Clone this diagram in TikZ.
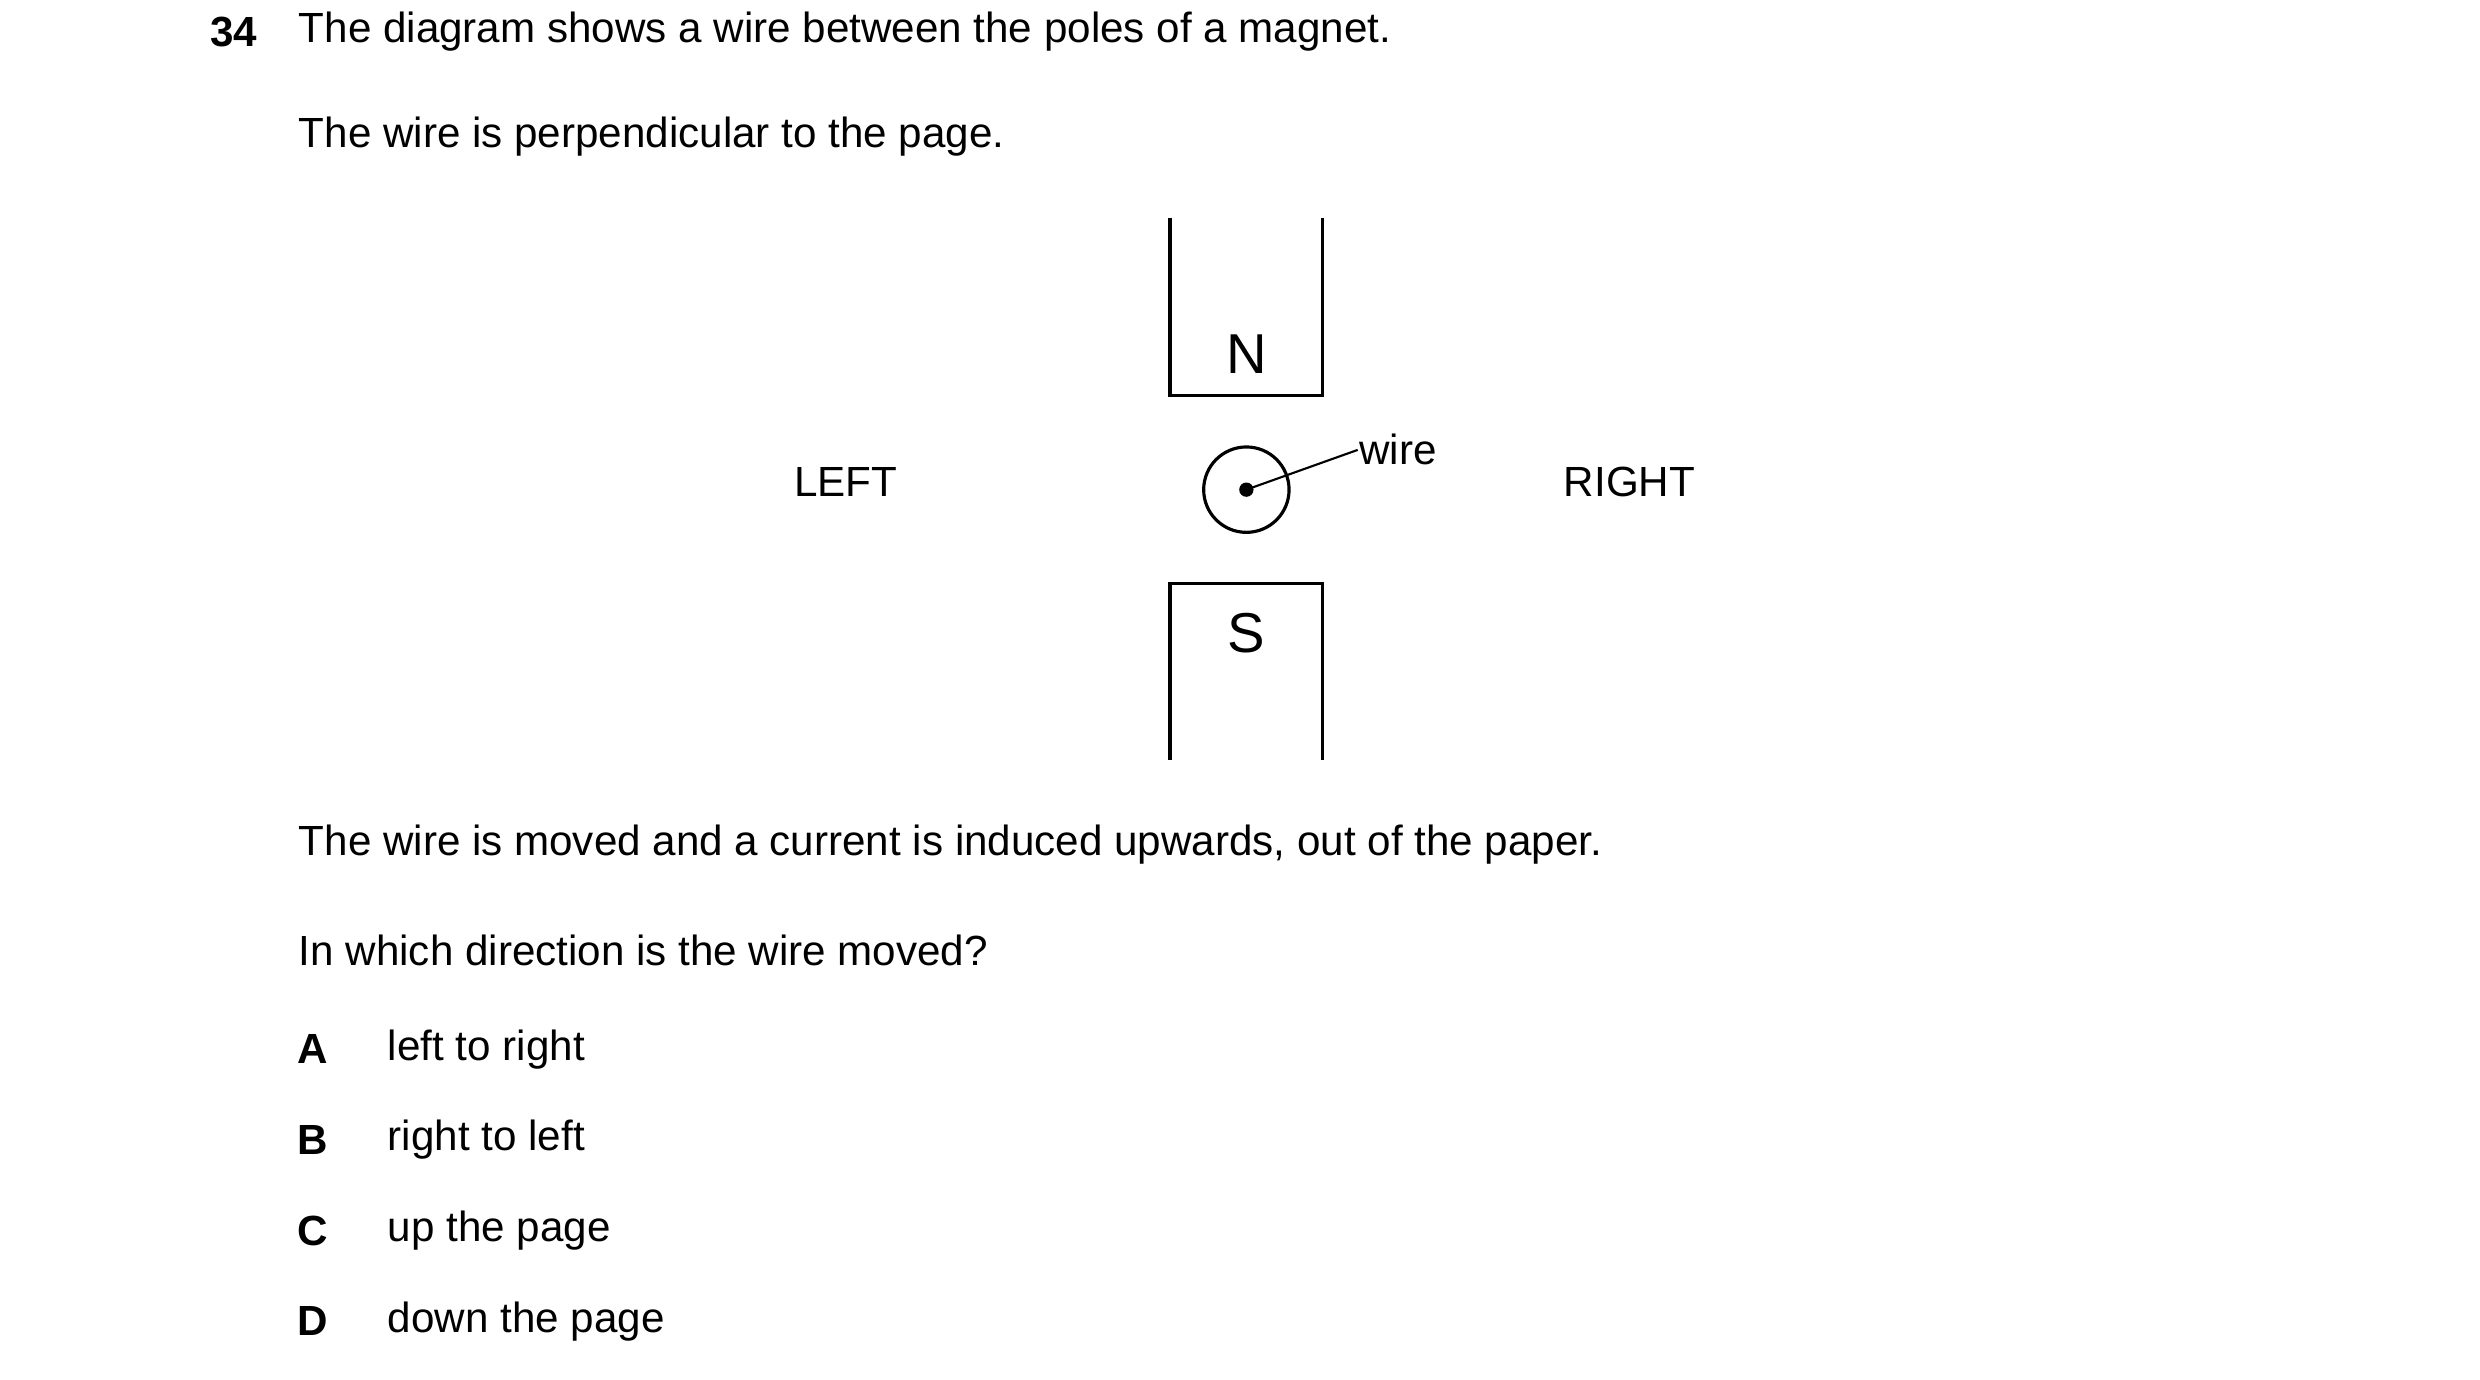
\documentclass[tikz,border=0pt]{standalone}
\usepackage{fontspec}
\setmainfont{Liberation Sans}
\usetikzlibrary{positioning}
\begin{document}
\begin{tikzpicture}[x=0.0159cm,y=-0.0159cm,line width=0.9pt,
		txt/.style={anchor=west,inner sep=0pt,font=\fontsize{12}{14}\selectfont},
		big/.style={inner sep=0pt,font=\fontsize{16}{19}\selectfont},
		key/.style={inner sep=0pt,font=\fontsize{12}{14}\selectfont\bfseries}]
		\useasboundingbox (0,0) rectangle (1560,868);
		
		\node[key] (num) at (147,20) {34};
		\node[txt] (q1) at (187,20) {The diagram shows a wire between the poles of a magnet.};
		\node[txt] (q2) at (187,86) {The wire is perpendicular to the page.};
		
		% magnet
		\draw (736,137) -- (736,249) -- (832,249) -- (832,137);
		\draw (736,478) -- (736,367) -- (832,367) -- (832,478);
		\node[big] (n) at (784,223) {N};
		\node[big] (s) at (784,398) {S};
		
		% wire
		\node[circle,draw,minimum size=27\pgflinewidth,inner sep=0pt] (w) at (784,308) {};
		\fill (w.center) circle (4.5);
		\node[txt] (wl) at (854,283) {wire};
		\draw[line width=0.6pt] (w.center) -- (wl.west);
		
		\node[txt,anchor=center] (left) at (532,303) {LEFT};
		\node[txt,anchor=center] (right) at (1025,303) {RIGHT};
		
		\node[txt] (q3) at (187,531) {The wire is moved and a current is induced upwards, out of the paper.};
		\node[txt] (q4) at (187,598) {In which direction is the wire moved?};
		
		\foreach \k/\t [count=\i] in {A/left to right,B/right to left,C/up the page,D/down the page}
		{
			\node[key] (k\i) at (197,603+57*\i) {\k};
			\node[txt] (o\i) at (243,603+57*\i) {\t};
		}
	\end{tikzpicture}
\end{document}
